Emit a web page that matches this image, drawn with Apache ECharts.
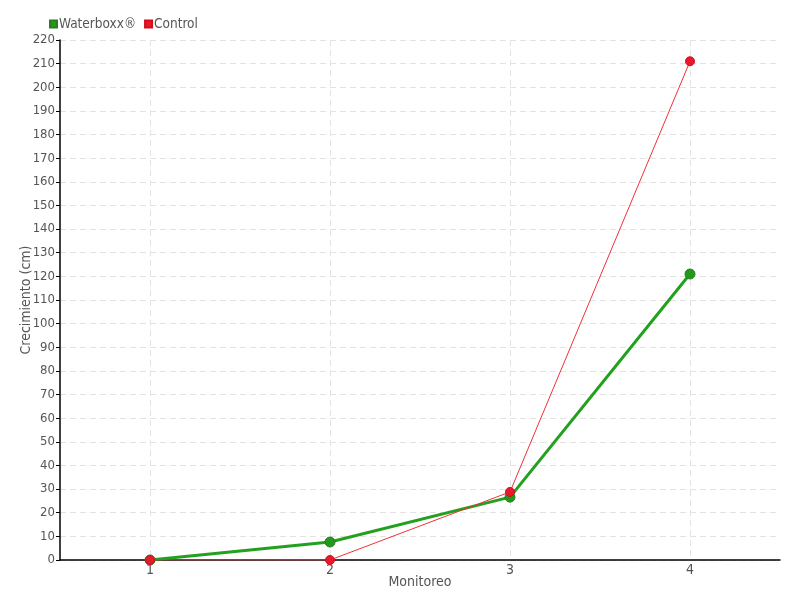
<!DOCTYPE html>
<html>
<head>
<meta charset="utf-8">
<script src="https://cdn.jsdelivr.net/npm/echarts@6/dist/echarts.min.js"></script>
<style>
  html, body { margin: 0; padding: 0; background: #fff; }
  #chart { width: 800px; height: 600px; }
</style>
</head>
<body>
<div id="chart"></div>
<script>
var categories = ['1', '2', '3', '4'];
var waterboxx = [0, 7.6, 26.6, 121];
var control = [0, 0, 28.8, 211];

var myChart = echarts.init(document.getElementById('chart'));
var font = 'DejaVu Sans Condensed';

myChart.setOption({
  animation: false,
  textStyle: { fontFamily: font },
  legend: {
    left: 44,
    top: 12,
    itemWidth: 7,
    itemHeight: 7,
    itemGap: 8,
    icon: 'rect',
    textStyle: { color: '#555', fontSize: 13.5, fontFamily: font, padding: [0, 0, 0, -3] },
    data: ['Waterboxx®', 'Control']
  },
  grid: { left: 60, right: 20, top: 40, bottom: 40, outerBoundsMode: 'none' },
  xAxis: {
    type: 'category',
    data: categories,
    name: 'Monitoreo',
    nameLocation: 'middle',
    nameGap: 15,
    nameMoveOverlap: false,
    nameTextStyle: { color: '#555', fontSize: 14, fontFamily: font },
    axisLine: { lineStyle: { color: '#000', width: 1.5 } },
    axisTick: { alignWithLabel: true, length: 4, lineStyle: { color: '#000' } },
    axisLabel: { color: '#555', fontSize: 14, margin: 3, fontFamily: font },
    splitLine: { show: true, alignWithLabel: true, lineStyle: { color: '#e3e3e3', type: [6, 4] } }
  },
  yAxis: {
    type: 'value',
    min: 0,
    max: 220,
    interval: 10,
    name: 'Crecimiento (cm)',
    nameLocation: 'middle',
    nameGap: 27,
    nameMoveOverlap: false,
    nameTextStyle: { color: '#555', fontSize: 14, fontFamily: font },
    axisLine: { show: true, lineStyle: { color: '#000', width: 1.5 } },
    axisTick: { show: true, length: 4, lineStyle: { color: '#000' } },
    axisLabel: { color: '#555', fontSize: 13, margin: 5, fontFamily: font },
    splitLine: { show: true, lineStyle: { color: '#e3e3e3', type: [6, 4] } }
  },
  series: [
    {
      name: 'Waterboxx®',
      type: 'line',
      data: waterboxx,
      symbol: 'circle',
      symbolSize: 10,
      lineStyle: { color: '#22a01e', width: 3 },
      itemStyle: { color: '#1f9a1b', borderColor: '#2b7d23', borderWidth: 1 }
    },
    {
      name: 'Control',
      type: 'line',
      data: control,
      symbol: 'circle',
      symbolSize: 9,
      lineStyle: { color: '#f0303c', width: 1 },
      itemStyle: { color: '#e8192c', borderColor: '#d0101f', borderWidth: 1 }
    }
  ]
});
window.addEventListener('resize', function () { myChart.resize(); });
</script>
</body>
</html>
